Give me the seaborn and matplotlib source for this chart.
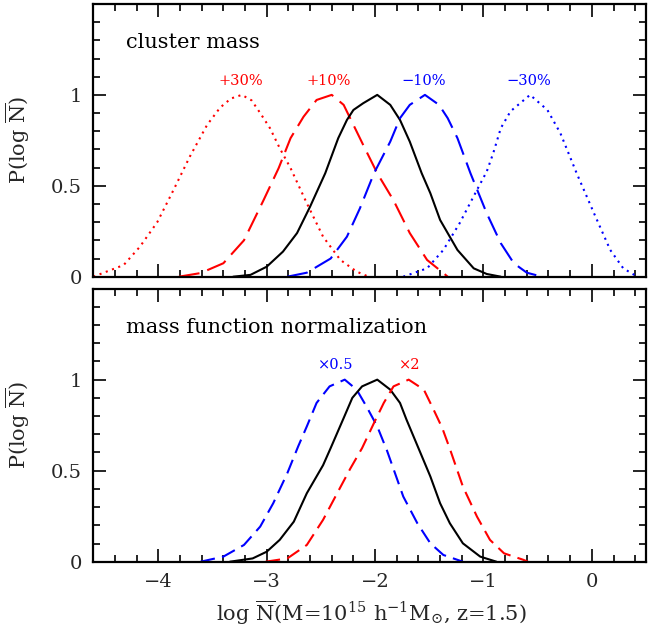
import matplotlib
matplotlib.use('Agg')
import matplotlib.pyplot as plt
import seaborn as sns
import pandas as pd
from matplotlib.ticker import FixedLocator, MultipleLocator, NullFormatter

# ---------------- data ----------------
# top panel: cluster mass
top_p30_x = [-4.60, -4.32, -4.17, -4.01, -3.86, -3.71, -3.55, -3.43, -3.33, -3.23, -3.14,
             -3.06, -2.97, -2.88, -2.78, -2.63, -2.48, -2.32, -2.17, -2.06]
top_p30_p = [0.0, 0.064, 0.165, 0.30, 0.477, 0.66, 0.835, 0.93, 0.98, 1.0, 0.97,
             0.90, 0.817, 0.707, 0.597, 0.404, 0.22, 0.092, 0.028, 0.0]

top_p10_x = [-3.81, -3.61, -3.40, -3.21, -3.03, -2.89, -2.78, -2.66, -2.54, -2.40,
             -2.29, -2.20, -2.11, -1.98, -1.83, -1.68, -1.52, -1.37, -1.33]
top_p10_p = [0.0, 0.02, 0.074, 0.20, 0.42, 0.597, 0.762, 0.88, 0.972, 1.0,
             0.945, 0.835, 0.725, 0.569, 0.42, 0.24, 0.092, 0.02, 0.0]

top_base_x = [-3.31, -3.15, -3.00, -2.85, -2.72, -2.60, -2.46, -2.34, -2.26, -2.20, -2.11,
              -1.98, -1.86, -1.77, -1.68, -1.57, -1.49, -1.40, -1.24, -1.09, -0.97, -0.84]
top_base_p = [0.0, 0.01, 0.055, 0.138, 0.24, 0.385, 0.569, 0.762, 0.862, 0.917, 0.954,
              1.0, 0.945, 0.862, 0.743, 0.569, 0.459, 0.312, 0.147, 0.046, 0.015, 0.0]

top_m10_x = [-2.81, -2.63, -2.41, -2.26, -2.14, -2.01, -1.86, -1.77, -1.68, -1.54,
             -1.41, -1.33, -1.24, -1.12, -0.97, -0.84, -0.72, -0.60, -0.46]
top_m10_p = [0.0, 0.022, 0.10, 0.22, 0.376, 0.569, 0.743, 0.872, 0.945, 1.0,
             0.945, 0.872, 0.762, 0.569, 0.349, 0.184, 0.074, 0.022, 0.0]

top_m30_x = [-1.74, -1.52, -1.37, -1.22, -1.06, -0.97, -0.91, -0.84, -0.75, -0.57,
             -0.41, -0.29, -0.14, 0.02, 0.17, 0.29, 0.42]
top_m30_p = [0.0, 0.046, 0.147, 0.294, 0.477, 0.578, 0.679, 0.817, 0.91, 1.0,
             0.917, 0.789, 0.569, 0.349, 0.147, 0.046, 0.0]

top_labels = ['+30%', '+10%', '\u221210%', '\u221230%']
top_label_x = [-3.24, -2.43, -1.55, -0.58]
top_label_colors = ['red', 'red', 'blue', 'blue']

# bottom panel: mass function normalization
bot_half_x = [-3.61, -3.40, -3.21, -3.06, -2.94, -2.81, -2.71, -2.63, -2.54, -2.42,
              -2.28, -2.17, -2.08, -1.98, -1.89, -1.74, -1.61, -1.49, -1.37, -1.19]
bot_half_p = [0.0, 0.028, 0.092, 0.193, 0.321, 0.486, 0.633, 0.743, 0.872, 0.963,
              1.0, 0.945, 0.853, 0.743, 0.61, 0.358, 0.211, 0.101, 0.037, 0.0]

bot_base_x = [-3.34, -3.13, -3.00, -2.88, -2.75, -2.63, -2.48, -2.41, -2.29, -2.21, -2.12,
              -1.98, -1.86, -1.77, -1.71, -1.60, -1.49, -1.40, -1.31, -1.19, -1.03, -0.88]
bot_base_p = [0.0, 0.018, 0.055, 0.12, 0.22, 0.376, 0.53, 0.624, 0.789, 0.9, 0.963,
              1.0, 0.945, 0.872, 0.78, 0.624, 0.468, 0.321, 0.211, 0.101, 0.028, 0.0]

bot_two_x = [-3.01, -2.81, -2.63, -2.48, -2.35, -2.23, -2.12, -2.01, -1.92, -1.83, -1.69,
             -1.55, -1.46, -1.38, -1.31, -1.19, -1.06, -0.94, -0.81, -0.63, -0.59]
bot_two_p = [0.0, 0.018, 0.092, 0.23, 0.376, 0.51, 0.624, 0.762, 0.872, 0.963, 1.0,
             0.945, 0.835, 0.734, 0.62, 0.413, 0.248, 0.12, 0.046, 0.01, 0.0]

bot_labels = ['\u00d70.5', '\u00d72']
bot_label_x = [-2.36, -1.68]
bot_label_colors = ['blue', 'red']

panel_titles = ['cluster mass', 'mass function normalization']
y_ticks = [0, 0.5, 1]
y_tick_labels = ['0', '0.5', '1']
x_ticks = [-4, -3, -2, -1, 0]

# ---------------- style ----------------
sns.set_style('ticks')
plt.rcParams['font.family'] = ['DejaVu Serif']
plt.rcParams['mathtext.fontset'] = 'dejavuserif'
plt.rcParams['axes.unicode_minus'] = True

fig = plt.figure(figsize=(6.49, 6.30), dpi=100)
ax1 = fig.add_axes([0.1438, 0.5608, 0.8516, 0.4329])
ax2 = fig.add_axes([0.1438, 0.1084, 0.8516, 0.4335])

dash_long = (0, (10, 4))
dash_short = (0, (7, 3.5))
dotted = (0, (1, 2.2))
LW = 1.5


def curve(ax, xs, ps, color, ls):
    df = pd.DataFrame({'x': xs, 'p': ps})
    sns.lineplot(data=df, x='x', y='p', ax=ax, color=color, linestyle=ls,
                 linewidth=LW, sort=False, estimator=None)


curve(ax1, top_p30_x, top_p30_p, 'red', dotted)
curve(ax1, top_p10_x, top_p10_p, 'red', dash_long)
curve(ax1, top_base_x, top_base_p, 'black', '-')
curve(ax1, top_m10_x, top_m10_p, 'blue', dash_long)
curve(ax1, top_m30_x, top_m30_p, 'blue', dotted)

curve(ax2, bot_half_x, bot_half_p, 'blue', dash_short)
curve(ax2, bot_base_x, bot_base_p, 'black', '-')
curve(ax2, bot_two_x, bot_two_p, 'red', dash_short)

for lab, lx, lc in zip(top_labels, top_label_x, top_label_colors):
    ax1.text(lx, 1.075, lab, ha='center', va='center', color=lc, fontsize=10.5)
for lab, lx, lc in zip(bot_labels, bot_label_x, bot_label_colors):
    ax2.text(lx, 1.08, lab, ha='center', va='center', color=lc, fontsize=10.5)

for ax, title in zip([ax1, ax2], panel_titles):
    ax.text(0.06, 0.857, title, transform=ax.transAxes, ha='left', va='center',
            fontsize=15, color='black')
    ax.set_xlim(-4.6, 0.5)
    ax.set_ylim(0, 1.5)
    ax.xaxis.set_major_locator(FixedLocator(x_ticks))
    ax.xaxis.set_minor_locator(MultipleLocator(0.2))
    ax.yaxis.set_major_locator(FixedLocator(y_ticks))
    ax.yaxis.set_minor_locator(MultipleLocator(0.1))
    ax.set_yticklabels(y_tick_labels)
    ax.tick_params(which='both', direction='in', top=True, right=True,
                   width=1.2, color='black', labelsize=14, pad=8)
    ax.tick_params(which='major', length=9.5)
    ax.tick_params(which='minor', length=5)
    for sp in ax.spines.values():
        sp.set_visible(True)
        sp.set_linewidth(1.6)
        sp.set_color('black')
    ax.set_ylabel(r'P(log $\overline{\mathrm{N}}$)', fontsize=15)
    ax.yaxis.set_label_coords(-0.111, 0.5)

ax1.set_xlabel('')
ax1.xaxis.set_major_formatter(NullFormatter())
ax2.set_xlabel(r'log $\overline{\mathrm{N}}$(M=10$^{15}$ h$^{-1}$M$_{\odot}$, z=1.5)',
               fontsize=15)
ax2.xaxis.set_label_coords(0.503, -0.135)

fig.savefig('out.png', dpi=100)
